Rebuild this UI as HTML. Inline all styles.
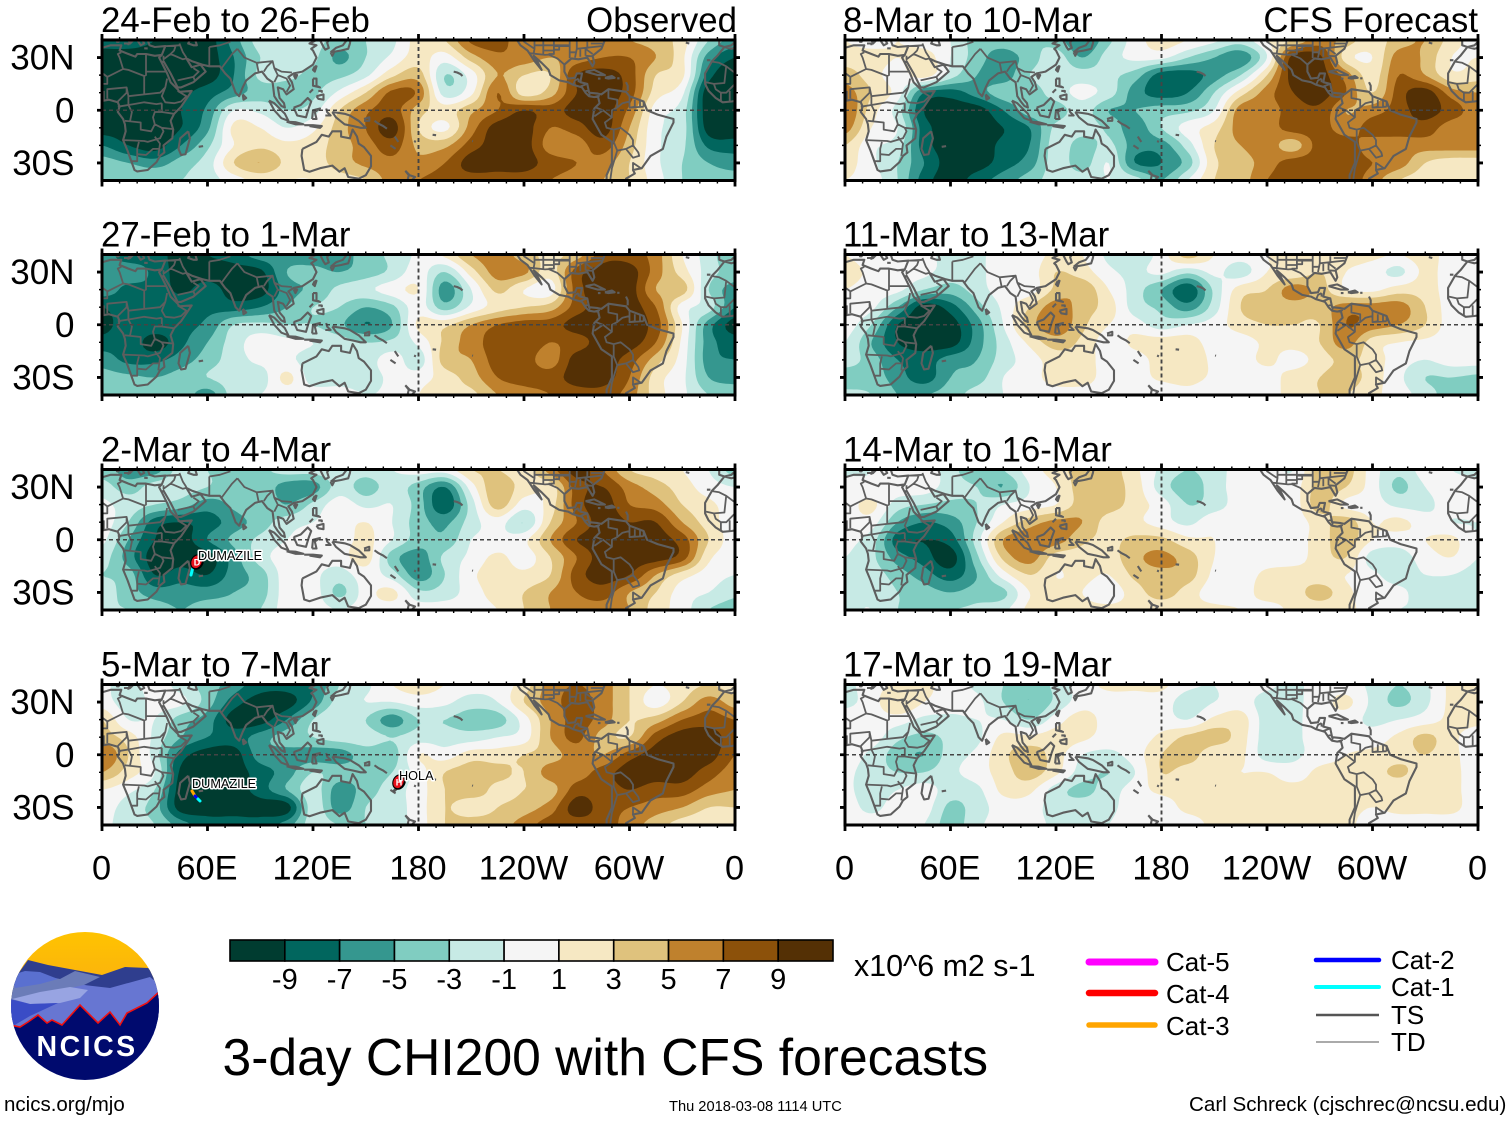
<!DOCTYPE html>
<html lang="en">
<head>
<meta charset="utf-8">
<title>3-day CHI200 with CFS forecasts</title>
<style>
html,body{margin:0;padding:0;background:#fff}
svg{display:block}
text{font-family:"Liberation Sans",sans-serif;fill:#000}
</style>
</head>
<body>
<svg id="chart" xmlns="http://www.w3.org/2000/svg" width="1510" height="1121" viewBox="0 0 1510 1121">
  <defs>
    <clipPath id="logo-clip"><circle cx="85" cy="1006" r="74"/></clipPath>
    <linearGradient id="sun" x1="0" y1="0" x2="0" y2="1"><stop offset="0" stop-color="#ffc400"/><stop offset="0.6" stop-color="#fbb40c"/><stop offset="1" stop-color="#d98f2a"/></linearGradient>
  </defs>
  <g id="panels"></g>
  <g id="colorbar"></g>
  <text x="854" y="976" font-size="30.4">x10^6 m2 s-1</text>
  <text x="222.5" y="1075" font-size="51.6">3-day CHI200 with CFS forecasts</text>
  <g clip-path="url(#logo-clip)">
    <rect x="10" y="930" width="150" height="80" fill="url(#sun)"/>
    <polygon points="10,985 28,960 48,965 75,970 102,975 125,967 148,968 165,980 165,1020 10,1020" fill="#2f3e8e"/>
    <polygon points="10,985 24,973 45,976 60,979 75,971 100,977 84,985 110,990 165,977 165,1030 10,1030" fill="#6b7cb8"/>
    <polygon points="12,975 25,971 40,972 58,979 40,984 15,988" fill="#5a70d0"/>
    <polygon points="84,985 110,988 150,977 165,990 165,1035 10,1035 10,1003 40,996 70,988" fill="#6776d2"/>
    <polygon points="12,999 40,992 70,987 88,990 80,998 60,1003 30,1004" fill="#98a4e2"/>
    <polygon points="10,999 30,1004 58,1003 30,1016 13,1026 10,1026" fill="#3a4cc6"/>
    <polygon points="10,1025 20,1027 28,1022 38,1015 47,1023 52,1020 62,1025 80,1005 98,1023 110,1012 120,1025 127,1013 147,1003 160,991 165,1085 5,1085" fill="#000a6e"/>
    <polyline points="10,1025 20,1027 28,1022 38,1015 47,1023 52,1020 62,1025 80,1005 98,1023 110,1012 120,1025 127,1013 147,1003 160,991" fill="none" stroke="#f01010" stroke-width="1.6"/>
    <text x="36.5" y="1056" font-size="28.5" font-weight="bold" letter-spacing="2.5" style="fill:#fff">NCICS</text>
  </g>
  <text x="4" y="1111" font-size="20.5">ncics.org/mjo</text>
  <text x="669" y="1111" font-size="14.65">Thu 2018-03-08 1114 UTC</text>
  <text x="1189" y="1111" font-size="20.6">Carl Schreck (cjschrec@ncsu.edu)</text>
  <g>
    <line x1="1089" y1="962" x2="1155" y2="962" stroke="#ff00ff" stroke-width="7" stroke-linecap="round"/>
    <line x1="1089" y1="993" x2="1155" y2="993" stroke="#ff0000" stroke-width="6.5" stroke-linecap="round"/>
    <line x1="1089" y1="1025" x2="1155" y2="1025" stroke="#ffa500" stroke-width="5.5" stroke-linecap="round"/>
    <line x1="1316" y1="960" x2="1379" y2="960" stroke="#0000ff" stroke-width="4.5" stroke-linecap="round"/>
    <line x1="1316" y1="987" x2="1379" y2="987" stroke="#00ffff" stroke-width="4" stroke-linecap="round"/>
    <line x1="1316" y1="1015" x2="1379" y2="1015" stroke="#555" stroke-width="2.5"/>
    <line x1="1316" y1="1042" x2="1379" y2="1042" stroke="#aaa" stroke-width="2"/>
    <text x="1166" y="971" font-size="26">Cat-5</text>
    <text x="1166" y="1003" font-size="26">Cat-4</text>
    <text x="1166" y="1035" font-size="26">Cat-3</text>
    <text x="1391" y="969" font-size="26">Cat-2</text>
    <text x="1391" y="996" font-size="26">Cat-1</text>
    <text x="1391" y="1024" font-size="26">TS</text>
    <text x="1391" y="1051" font-size="26">TD</text>
  </g>
</svg>
<script>
// Gridded anomaly fields: rows 40N..40S every 10 deg, columns 0..360E every 15 deg
const feb24 = [
[-8,-8,-9,-10,-10,-6,-2,-2,-2,-4,-3,-1.5,2,3,7.5,8,5.5,6,6,6,5,4,2,-3,-6],
[-10,-10,-10,-10,-10,-7,-3,-2,-2.5,-5.5,-3,-.5,2,0,4,6.5,6,5,6,7,7,5,1.5,-6,-9],
[-10,-10,-10,-10,-10,-7,-2.5,-2.5,-3.5,-3.5,-1.5,2.5,4,-3,0,5,3,3,9,10,8,3,1.5,-8,-11],
[-10,-10,-10,-9.5,-8,-6,-4,-4,-3.5,-.5,3,7.5,6.5,-2,.5,7,2,4,9,10,8,2,-.5,-10.5,-11],
[-10,-10,-10,-9,-6.5,-1,-1.5,-3,-2,3,6.5,8,4,2,4.5,7,9,8,10,10,6.5,0,-2,-10.5,-11],
[-10,-10,-10,-9,-5.5,1.5,1,-1,.5,4,7,10,3,.5,6,10,10,7,8,10,5,-.5,-2,-10,-10.5],
[-7,-9,-10,-7,-3.5,1,2.5,1.5,2,4,6,8,4.5,4.5,8,10,10,6,6,8,4,-.5,-2.5,-7.5,-8],
[-4,-5,-6,-4,-2,3,5,2.5,2,4,5.5,6.5,5.5,7,10,10,10,8,7,6,3,-.5,-3,-5,-6],
[-3,-3,-3,-3,-2,0,1.5,1,1,2,3,6,7,8,8,8,8,7,6,5,3,0,-3,-4,-4]];
const feb27 = [
[-6,-8,-8,-10,-9,-8,-6,-6,-6,-6,-4,-2.5,-.5,1.5,5,6,4,2.5,4,8,8,6,1,-2,-5],
[-7,-6,-7.5,-10,-10,-10,-9.5,-5,-4.5,-5,-4,-2.5,0,-3,2,6,5.5,2,8,10,10,6,2,-2,-4],
[-6,-7.5,-7.5,-9.5,-8,-10,-10,-6,-4.5,-2.5,-1.5,0,1,-6,-1,3.5,1,0,8,10,10,5,4,-3,-6],
[-9,-7.5,-7.5,-7.5,-7.5,-8,-7,-5,-3,-3,-5,-3.5,0,-4,-.5,2,3,4,8,10,10,7,0,-2,-7],
[-10,-7.5,-7.5,-7.5,-6.5,-3,-2.5,-3,-3,-4.5,-7,-5,1.5,2.5,5,7,8,8,10,10,10,8,1,-6,-10],
[-8,-7.5,-10,-7.5,-5,-2,0,-.5,-1,-2,-3,-2.5,-.5,3.5,6,8,8.5,7,8,10,10,7,.5,-6,-8],
[-6,-7.5,-7.5,-6,-4,-2,-.5,-.5,-2,-2,-2,0,-2,4,5,8,8,6,10,10,8,4,0,-6,-7],
[-4,-4.5,-5,-4,-3,-2,-2,1.5,-2,-2,-2,-.5,0,2,4,7,8,8,10,10,7,2,-.5,-5,-6],
[-3,-3,-3,-3.5,-6,-2,-1,0,0,0,-1,-.5,1,3,2.5,5,6,7,8,8,6,2,-.5,-3,-3.5]];
const mar2 = [
[-4,-6,-6,-2,-3,-4,-3.5,-2,-2,-1.5,-2,-1,0,0,3,3,2,6,10,7,3,2,1,-1,-4],
[-2,-4,-2,-2,-3,-4,-3.5,-6,-6,-2,-4,-2,-4,-7,0,4.5,2,2,8,9,6,4,2,0,-1],
[-.5,-2,-3,-4,-6,-4.5,-3,-5,-2.5,0,-1.5,-1,-4,-8.5,-2,4,0,2,8,10,7,6,3,1.5,0],
[0,-3,-8,-9,-8,-6,-4,-2,-1,0,1,-1,-4,-5.5,-2,0,-3,3,7,10,9,9,5,2,0],
[-.5,-5,-9,-10,-7,-4.5,-2.5,-1,0,0,1.5,-1,-4,-4.5,-1,-.5,.5,5,9,10,10,10,8,3,0],
[-2,-6,-10,-10,-10,-6,-2,0,0,0,2,-4,-6,-2.5,-.5,1.5,0,3,7,10,10,10,8,1.5,0],
[-3,-4,-9,-8,-9,-6,-4,0,-.5,-2,0,-2,-6,-3,.5,2,1.5,3,8,10,9,5,2,0,-1],
[-2,-4,-6,-6,-6,-5,-4,0,0,-3.5,0,1.5,-2.5,-2,0,2,3,5,7,8,5,3,0,-1,-2.5],
[-3,-3,-4,-5,-4,-4,-3,0,0,-1,0,0,0,0,0,1,3,5,6,6,5,2,0,-3,-4]];
const mar5 = [
[-.5,-2,0,-2,-4,-6,-8,-8,-7,-3,-1.5,1,2,1,0,0,2,6,7,6,3,1,2,3,2],
[0,-2,-.5,-.5,-4,-8,-10,-10,-6.5,-2,-1,-1,0,-.5,-2,-1,3,6,7.8,6,3,0,3,6,4],
[3,-1,-1,-4,-6,-10,-10,-7,-3,-1,-3,-6,-3,-3,-4,-4,0,5,7.8,6,3,4,7,8,7],
[4,2,-1.5,-5,-7,-8,-6,-4,-3,-2,-2,-3,-2,-2,-2,-1,0,5,7.5,4,3,8,10,10,8],
[7,3,-2,-8,-10,-10,-6,-6,-6,-6,-4,-4,1,0,2,2,3,4,6,5,8,10,10,10,7],
[5,2,-1,-9.5,-10,-10,-8,-6,-3,-4,-4,-3,0,3,4,3.5,3,6,6,8,10,10,10,8,6],
[1,-.5,-3,-10,-10,-10,-8,-5,-2,-6,-4,-2,0,3,4,2.5,3,4,8,8,9,8,8,6,5],
[0,-2,-4,-10,-10,-10,-10,-10,-2,-6,-3,-2,0,3,2,3,4,6,10,8,7,6,5,3,3],
[-.5,-2,-3,-6,-8,-8,-8,-6,-2,-3,-3,-2,0,3,4,4,6,8,8,8,6,4,2,1.5,2]];
const mar8 = [
[1,0,1,0,-1,-4,-4,-3,-4,-7,-3.5,0,2,1,-.5,-2,1,3,6,4,2,4,5,2,0],
[2,2,1,2,-1,-4,-6,-4,-2,-5,-2,-.5,-.5,-3,-5,-6.5,-1,10,9.5,2,1,6,4.5,1,1],
[4,2,0,2,-2,-5,-6,-3,-2,-2,-2.5,-4,-8,-8,-6,-3,3,10,10,6,2,7,5,1.5,2],
[6,3,0,-7,-8,-6,-4,-4,-2,-.5,-2,-6,-8,-7,-3,2,6,9,10,7,3,8,10,6,5],
[7,2,-2,-9,-10,-10,-7,-4,-4,-2,-5,-5,-4,-3.5,-1,6,6,8,8.5,5,6,8,10,8,6],
[6,1,-1,-8,-10,-10,-9,-7,-2.5,-2,-3.5,-6,-3,0,2,6,6,8,8,6,8,8,8,6,6],
[3,-.5,-2,-8,-10,-10,-8.5,-7,-2,-4,-2.5,-6,-6,-2,3,5,6,4,8,8,6,6,6,6,6],
[2,-.5,-3,-7,-10,-10,-8,-6,-2,-4,-1,-7,-7,-4,2.5,4,6,8,8,8,7,6,3,2,2],
[1,0,-3,-8,-10,-8,-6,-4,-2,-2,-1,-2,-5,-1,3,4,7,8,7,8,6,3,2,2,2]];
const mar11 = [
[1,0,1,0,-2,-1.5,0,0,1.5,1,-1.5,-2.5,0,4,1,0,1,2,2,2,1.5,1,2,0,0],
[2,.5,-.5,-.5,-2,-1.5,0,0,3,2,-.5,-1.5,-.5,-2.5,-.5,-2,1,1.5,3,1,0,-1.5,1.5,0,0],
[1,0,-.5,-3,-4,-2,0,0,3.5,4.5,1,-2,-5,-8.5,-2.5,2,3,6,4,1,.5,2,2,0,0],
[0,-.5,-5,-10,-8,-4,-.5,3,6,4,2,-2,-3.5,-6,-2,3,4,4,4,6,6,6,3,0,0],
[0,-3,-9,-10,-10,-6,-1,4,6.5,3.5,1,0,-2,-1,0,2,3,3,3,7,6,5,3,0,0],
[-1,-5,-9,-10,-10,-6,-2,1.5,4,2.5,0,1.5,2,2,0,0,1.5,2,3,6,2,1,.5,0,0],
[-2,-4,-7,-8,-6,-5,-2,0,2,2,0,0,2,2.5,.5,0,1.5,0,2,3.5,2,0,-1,0,0],
[-4,-4,-6,-8,-5,-4,-1,0,2,2,0,0,1.5,2,.5,0,0,2,3,4,2,-.5,-3,-3,-3.5],
[-2.5,-3,-5,-5,-4,-2,-1,0,0,0,0,0,-1,0,-1,0,0,2,3,3,1.5,0,-2,-4,-4]];
const mar14 = [
[-1.5,-1,0,0,-2,-5,-3,0,2,4,4,1.5,-1.5,-3,-2,0,0,-1,4,4,0,-2.5,0,-1,-2],
[0,-.5,0,0,-2,-3,-5,-1,1,4,4,2,-2,-4,-2,0,0,0,4,3,0,-3.5,-1,0,0],
[0,1.5,-2,-3,-3.5,-3,-1,0,1,4,4,2,0,-3,-2,0,0,0,4,.5,0,-1.5,-1.5,0,0],
[0,0,-5,-7,-6,-3,1,4,5.5,5,2,1.5,0,-1.5,.5,0,0,0,2,4,1,1.5,0,-1,-1],
[-.5,-2,-8,-9,-8,-2,5,6.5,6,3.5,2.5,3.5,3.5,1.5,1,0,0,0,2,4,1,0,1,1.5,-1],
[-1,-2.5,-6,-8,-10,-3.5,3.5,6,2,2,2,4.5,5.5,4,1,0,0,0,2,3,-2,-2,0,1,-1],
[-2,-2,-4,-6,-8,-5,0,3,1,1.5,1,3.5,4.5,4,.5,0,1.5,2,1.5,1,-.5,-2,-1,-1,-2],
[-1.5,-1.5,-3,-4,-5,-4,-3.5,1,1.5,1,0,2,4,2,0,0,2,2,4,1.5,0,-.5,-2,-2,-2.5],
[-1.5,-1,-3,-3,-3,-2.5,-1.5,1.5,1.5,1.5,1.5,1.5,1.5,1.5,1.5,1,0,1.5,1.5,1.5,0,-1,-1,-1,-1.5]];
const mar17 = [
[-1.5,0,1.5,1.5,0,-1.5,-3,-4,-2.5,0,1.5,1.5,1.5,-.5,-1,0,-.5,-1.5,0,0,-1.5,-3,-1.5,1.5,1.5],
[-1.5,0,3,1,0,-.5,-3,-5,-2.5,0,0,0,0,-2,-1,0,-2,-1.5,0,1.5,-1.5,-3.5,-1.5,1.5,1.5],
[0,0,0,-1.5,-1.5,-1,-1,-3,0,2,0,0,0,-1,1.5,2,-2,-1.5,0,0,-1.5,-1,0,1.5,1.5],
[0,0,-2.5,-3.5,-2.5,-1.5,1.5,1.5,2,1.5,0,0,1.5,3.5,4,2,-2,-1.5,0,0,0,1.5,3.5,1.5,0],
[0,-1.5,-4,-5,-2,-.5,2.5,4,2,-1,-1.5,0,3,4,1.5,1.5,-2,-1.5,0,1,1.5,2,3,1.5,0],
[-.5,-2,-3,-3,-1.5,0,2,4,1.5,-2,-3,-1,3,2,1.5,1,1,0,1.5,1.5,2,3.5,1.5,1.5,0],
[-.5,-2,-1,0,-2,-1.5,1.5,1.5,-2,-3.5,-2,0,1.5,1.5,1.5,1.5,1.5,1.5,1.5,1.5,1.5,1.2,1.5,1.5,0],
[0,-1.5,0,0,-3.5,-2,0,0,-2,-2,-1.5,0,0,1.5,1.5,1.5,1.5,1,1.5,1.5,1,1.5,1.5,1.5,0],
[0,0,0,-1,-4,-1.5,0,0,-1.5,-1.5,-1,0,0,0,1.5,1.5,1.5,1.5,1.5,1.5,0,0,0,0,0]];

const panelFields = [feb24, feb27, mar2, mar5, mar8, mar11, mar14, mar17];
const panelTitles = ["24-Feb to 26-Feb","27-Feb to 1-Mar","2-Mar to 4-Mar","5-Mar to 7-Mar","8-Mar to 10-Mar","11-Mar to 13-Mar","14-Mar to 16-Mar","17-Mar to 19-Mar"];
const panelKeys = ["feb24","feb27","mar2","mar5","mar8","mar11","mar14","mar17"];
const contourLevels = [-9,-7,-5,-3,-1,1,3,5,7,9];
const contourColors = ["#003c30","#01665e","#35978f","#80cdc1","#c7eae5","#f5f5f5","#f6e8c3","#dfc27d","#bf812d","#8c510a","#543005"];
const lonTickValues = [0,60,120,180,240,300,360];
const lonTickLabels = ["0","60E","120E","180","120W","60W","0"];
const latTickValues = [30,0,-30];
const latTickLabels = ["30N","0","30S"];

// Coastlines and borders as [lon, lat] vertices (degrees)
const coastlines = [
[[-6,36],[-10,31],[-13,28],[-17,21],[-17,15],[-15,11],[-11,7],[-7,4.5],[-2,5],[4,6],[9,4.5],[10,2],[9,-1],[12,-5],[13,-8],[13.5,-12],[12,-17],[14.5,-23],[17,-30],[18.5,-34],[20,-34.8],[26,-34],[31,-29.5],[33,-26],[35.5,-24],[35,-20],[40,-16],[40.5,-11],[39,-6],[41,-2],[45,2],[51,11],[44,10.5],[43,12],[39,16],[37,21],[34,27],[32.5,30],[34,31.5],[30,31],[25,32],[20,32],[19,30.5],[15,32],[10,34],[11,37],[5,37],[-2,35],[-6,36]],
[[34,27],[35,28],[39,21],[43,13],[45,13],[52,16],[59,22],[56,26],[51,24.5],[48,29.5],[51,28],[57,26],[61,25],[67,25],[70,21],[73,18],[76,10],[78,8],[80,13],[82,17],[87,21],[91,22],[94,18],[97,16],[98,8],[100,5],[102,2.5],[104,1.5],[103.5,4],[101,7],[100,13],[103,12],[105,9],[109,12],[108,16],[106,19],[109,21],[114,22],[120,26],[122,30],[120,34],[119,35],[122,37],[118,38],[122,40]],
[[124,40],[126,36],[127,34.5],[129,35.5],[128,38.5],[130,41]],
[[130,33],[136,34],[140,35],[141,38],[141.5,41]],[[140,41],[137,37],[133,35.5],[130,33]],[[130,33],[131,31],[132,33]],
[[49,-12],[50,-16],[47.5,-25],[45,-25.5],[43.5,-22],[44.5,-16],[49,-12]],
[[80,9],[82,7],[80.5,6],[80,9]],
[[95,5.5],[98,4],[104,-2],[106,-6],[102,-4.5],[98,0],[95,5.5]],
[[105,-6.5],[110,-6.8],[114.5,-8],[110,-8],[105,-6.5]],
[[115,-8.5],[120,-8.5],[125,-9],[124,-10],[118,-9]],
[[109,1.5],[113,3],[117,7],[119,5],[117.5,1],[116,-4],[111,-3],[109,1.5]],
[[119.5,-5],[120,0],[124,1],[121,-1],[122,-5],[119.5,-5]],
[[120,18],[122,18],[122,14],[124,13],[120,14],[120,18]],[[122,8],[126,9],[126,6],[123,6.5],[122,8]],[[118,10],[120,12]],[[123,11],[125,11],[125,10]],
[[121,25],[122,25],[121,22],[120,23],[121,25]],[[109,20],[111,20],[110,18],[109,20]],
[[127.5,1],[128,-1],[130,-3],[127,-3]],
[[131,-1],[138,-2],[141,-3],[146,-6],[150,-10],[147,-10],[143,-9],[138,-8],[133,-4],[131,-1]],
[[149,-5],[152,-4],[152,-6],[149,-6]],[[155,-6],[157,-7.5],[160,-9],[162,-10.5]],
[[166.5,-15],[167.5,-16.5],[168.5,-18]],[[164,-20],[167,-22]],[[177.5,-17.5],[178.5,-18]],[[171.5,-41],[172.5,-40.5]],
[[114,-22],[113.5,-26],[115,-34],[118,-35],[124,-33],[131,-31.5],[135,-35],[138,-33],[140,-38],[146,-39],[150,-37],[153,-32],[153,-26],[149,-21],[146,-19],[145,-15],[142.5,-11],[141,-16],[136,-15],[136,-12],[131,-12],[129,-15],[125,-14],[122,-18],[114,-22]],
[[172.5,-34.5],[175,-37],[178,-38],[175,-41],[174,-39],[174.5,-37],[172.5,-34.5]],
[[-160,22],[-158,21.5],[-156,20.5],[-155,19.5]],[[-172,-14],[-170,-14.2]],[[-149.5,-17.5],[-149,-17.7]],[[55,-20.8],[57.5,-20.4]],[[-28,38.5],[-26,38]],[[-16,28.5],[-14,28.5]],
[[-124,40],[-122,37],[-118,34],[-117,32.5],[-114,28],[-110,23],[-112,27],[-114.5,31],[-110,27],[-106,23],[-105,20],[-100,17],[-95,16],[-92,14.5],[-87,13],[-85,10],[-83,8],[-80,7.5],[-78,8],[-77,4],[-80,1],[-81,-5],[-76,-14],[-70,-18],[-70,-30],[-73,-37],[-73,-41]],
[[-62,-41],[-62,-39],[-57,-36],[-58,-34],[-53,-33],[-48,-26],[-41,-22],[-39,-15],[-35,-7],[-35,-5],[-44,-2.5],[-50,0],[-52,5],[-60,8],[-62,10.5],[-72,12],[-76,9],[-78,9.5],[-83,10],[-84,15],[-88,16],[-87,21],[-90,21],[-91,18.5],[-95,18],[-97,22],[-97,26],[-93,29.5],[-89,29],[-84,30],[-81,25],[-80,27],[-81,31],[-76,35],[-74,40]],
[[-85,22],[-80,23],[-74,20],[-78,20],[-85,22]],[[-74,18.5],[-70,19.5],[-68.5,18.5],[-72,18],[-74,18.5]],[[-67,18.2],[-65.7,18.2]],[[-78,18],[-76.5,18]],[[-62,16],[-61,14],[-61,11]],
[[-9,40],[-9,37],[-6,36],[-2,37],[0,39],[0,40]],[[15,40],[16,38],[18,40],[16,40.5]],[[12.5,38],[15,38],[15,37]],[[8.5,41],[8.5,39],[9.5,39],[9.5,41]],[[20,40],[22,37],[24,38],[23,40],[26,40]],[[24,35.3],[26,35.2]],[[26,40],[27,37],[30,36],[36,36.5],[34,31.5]],[[50,40],[49,38],[52,37],[54,37],[53,40]]
];
const borderLines = [
[[25,22],[37,22]],[[25,31.5],[25,20],[24,19.5],[24,15.5]],[[24,19.5],[15,23],[12,23.5],[10,30],[9,32],[11,33]],[[12,23.5],[3,19],[-5,25],[-9,27],[-13,27.7]],[[-5,25],[-6,15.5],[-12,15],[-16.5,16]],[[3,19],[3,15],[0,15],[-5,10],[-8,10],[-11,12],[-12,15]],[[3,6.5],[3,12],[14,13],[14,10],[9,5]],[[14,13],[15,8],[24,9],[24,15.5]],[[24,9],[33,10],[36,13],[37,18]],[[36,13],[34,8],[36,4.5],[41,4],[45,5],[48,8],[43,11]],[[15,8],[15,3],[18,3.5],[24,4.5],[31,3.5],[34,4]],[[34,4],[34,-1],[41,-2]],[[34,-1],[30,-1],[29,-4],[30,-8],[34,-10],[40,-10.7]],[[13,-6],[22,-7],[22,-11],[28,-12],[30,-8]],[[9,2],[15,3]],[[15,3],[17,-1],[16,-6]],[[12,-17],[24,-17.5],[26,-18],[33,-16],[35,-12],[34,-10]],[[17,-29],[20,-29],[20,-22],[21,-18]],[[20,-25],[25,-25.5],[29,-22],[33,-22]],[[30,-15],[33,-19],[32,-26]],[[-8,10],[-8,5]],[[-3,5],[-3,11]],[[1,6],[1,11]],
[[35,31],[35,29],[39,32],[46,29],[48,29.5]],[[43,17],[52,19],[55,22],[52,24]],[[52,19],[53,16.5]],[[44,38],[46,33],[48,30]],[[61,25],[61,36]],[[68,24],[71,28],[74,32],[77,35]],[[77,35],[81,30],[88,27],[97,28]],[[92,22],[94,25],[97,28],[98,24],[100,20],[98,16]],[[100,20],[105,18],[107,14],[105,10.5]],[[98,24],[102,22],[108,21.5]],[[36,36.5],[44,37]],[[42,37],[41,34],[39,32]],[[61,36],[67,37],[73,39]],[[88,27],[89,22]],
[[-117,32.5],[-108,31.5],[-106,31.7],[-101,29.5],[-97,26]],[[-120,40],[-120,39],[-114,35]],[[-114,40],[-114,35],[-114.5,32.5]],[[-109,40],[-109,31.5]],[[-103,40],[-103,32],[-106,32]],[[-114,37],[-94,37]],[[-103,36.5],[-94,36.5]],[[-94,40],[-94,29.7]],[[-90,40],[-90,35],[-91,30]],[[-85,35],[-85,31]],[[-90,35],[-76,36.5]],[[-88,35],[-88,30.5]],[[-85,31],[-81,30.7]],[[-85,35],[-81,32]],[[-82,38],[-75,38]],[[-84,39],[-84,35]],[[-109,34],[-103,34]],[[-103,34.5],[-100,34.5],[-100,37]],[[-94,33],[-90,33]],
[[-92,14.5],[-91,17],[-89,18]],[[-89,18],[-89,16]],[[-88,13.5],[-84,15]],[[-85,11],[-83.5,11]],[[-83,8.5],[-82.5,9.5]],[[-77.5,8],[-77,8.5]],
[[-72,12],[-72,7],[-67,6],[-67,1.5],[-70,0],[-70,-4],[-75,0],[-79,1.5]],[[-67,1.5],[-64,4],[-60,5]],[[-60,8],[-60,1.5],[-57,2],[-57,6]],[[-54,6],[-54,2]],[[-52,5],[-52,2]],[[-60,1.5],[-52,2]],[[-70,-4],[-74,-7],[-73,-10],[-69,-11]],[[-69,-11],[-65,-10],[-60,-14],[-58,-17],[-58,-20],[-62,-22],[-67,-23],[-69,-18],[-69,-11]],[[-80,-3.5],[-75,0]],[[-67,-23],[-70,-33],[-71,-40]],[[-58,-20],[-55,-24],[-54.5,-26],[-58,-27],[-62,-22]],[[-58,-34],[-58,-30],[-53.5,-33]]
];
const panelOrigins = [[102,40],[102,254.5],[102,469.5],[102,684.5],[845,40],[845,254.5],[845,469.5],[845,684.5]];

const NS = "http://www.w3.org/2000/svg";
const PW = 633, PH = 140.5;
function mk(tag, attrs, parent, txt){
  const e = document.createElementNS(NS, tag);
  for (const k in attrs) e.setAttribute(k, attrs[k]);
  if (txt !== undefined) e.textContent = txt;
  if (parent) parent.appendChild(e);
  return e;
}
function xScale(ox, lon){ return ox + lon / 360 * PW; }
function yScale(oy, lat){ return oy + (40 - lat) / 80 * PH; }
function cr(a,b,c,d,t){
  return b + .5*t*(c-a + t*(2*a-5*b+4*c-d + t*(3*(b-c)+d-a)));
}
function sampleField(f, lon, lat){
  const u = lon/15, v = (40-lat)/10;
  const i = Math.min(23, Math.floor(u)), j = Math.min(7, Math.floor(v));
  const tu = u-i, tv = v-j;
  const col = q => Math.max(0, Math.min(24, q));
  const row = q => Math.max(0, Math.min(8, q));
  const r = [];
  for (let m=-1;m<=2;m++){
    const R = f[row(j+m)];
    r.push(cr(R[col(i-1)],R[col(i)],R[col(i+1)],R[col(i+2)],tu));
  }
  return cr(r[0],r[1],r[2],r[3],tv);
}
function bandPath(f, level, ox, oy, grid, NX, NY){
  let d = "";
  const dLon = 360/NX, dLat = 80/NY;
  const px = i => xScale(ox, i*dLon).toFixed(1);
  const py = j => yScale(oy, 40-j*dLat).toFixed(1);
  for (let j=0;j<NY;j++){
    let runStart = -1;
    for (let i=0;i<=NX;i++){
      const full = i<NX && grid[j][i]>=level && grid[j][i+1]>=level && grid[j+1][i]>=level && grid[j+1][i+1]>=level;
      if (full){ if (runStart<0) runStart=i; continue; }
      if (runStart>=0){
        d += "M"+px(runStart)+" "+py(j)+"L"+px(i)+" "+py(j)+"L"+px(i)+" "+py(j+1)+"L"+px(runStart)+" "+py(j+1)+"Z";
        runStart=-1;
      }
      if (i===NX) break;
      const c = [[i,j],[i+1,j],[i+1,j+1],[i,j+1]];
      const vals = c.map(p=>grid[p[1]][p[0]]);
      if (vals.every(v=>v<level)) continue;
      const pts = [];
      for (let k=0;k<4;k++){
        const n=(k+1)%4, a=vals[k], b=vals[n];
        if (a>=level) pts.push(c[k]);
        if ((a>=level)!==(b>=level)){
          const t=(level-a)/(b-a);
          pts.push([c[k][0]+t*(c[n][0]-c[k][0]), c[k][1]+t*(c[n][1]-c[k][1])]);
        }
      }
      pts.forEach((p,q)=>{ d += (q?"L":"M")+px(p[0])+" "+py(p[1]); });
      d += "Z";
    }
  }
  return d;
}
function linePath(lines, ox, oy){
  let d="";
  [0,360].forEach(off=>{
    lines.forEach(l=>{
      l.forEach((p,q)=>{
        d += (q?"L":"M")+xScale(ox,p[0]+off).toFixed(1)+" "+yScale(oy,p[1]).toFixed(1);
      });
    });
  });
  return d;
}
const root = document.getElementById("panels");
const defs = document.querySelector("defs");
panelFields.forEach((field, idx)=>{
  const ox = panelOrigins[idx][0], oy = panelOrigins[idx][1], key = panelKeys[idx];
  const g = mk("g",{},root);
  
  
  const cp = mk("clipPath",{id:"clip-"+idx},defs);
  mk("rect",{x:ox,y:oy,width:PW,height:PH},cp);
  const bands = mk("g",{"clip-path":"url(#clip-"+idx+")"},g);
  
  
  const base = mk("rect",{x:ox,y:oy,width:PW,height:PH,fill:contourColors[0]},bands);
  
  
  const NX=211, NY=47, grid=[];
  for (let j=0;j<=NY;j++){
    const row=[];
    for (let i=0;i<=NX;i++) row.push(sampleField(field,i*360/NX,40-j*80/NY));
    grid.push(row);
  }
  contourLevels.forEach((lv,k)=>{
    const p = mk("path",{d:bandPath(field,lv,ox,oy,grid,NX,NY),fill:contourColors[k+1]},bands);
    
    
  });
  const coast = mk("path",{d:linePath(coastlines,ox,oy),fill:"none",stroke:"#5e5e5e","stroke-width":2.1,"stroke-linejoin":"round"},bands);
  
  
  const bord = mk("path",{d:linePath(borderLines,ox,oy),fill:"none",stroke:"#5e5e5e","stroke-width":1.8,"stroke-linejoin":"round"},bands);
  
  
  const eq = mk("line",{x1:ox,x2:ox+PW,y1:yScale(oy,0),y2:yScale(oy,0),stroke:"#444","stroke-width":1.6,"stroke-dasharray":"4 3"},g);
  
  
  const dl = mk("line",{x1:xScale(ox,180),x2:xScale(ox,180),y1:oy,y2:oy+PH,stroke:"#444","stroke-width":1.9,"stroke-dasharray":"4 3"},g);
  
  
  // minor and major ticks
  let minor="", major="";
  for (let lon=0;lon<=360;lon+=10){
    const x=xScale(ox,lon);
    if (lon%60===0) major+="M"+x+" "+(oy-6)+"V"+oy+"M"+x+" "+(oy+PH)+"V"+(oy+PH+6);
    else minor+="M"+x+" "+(oy-3)+"V"+oy+"M"+x+" "+(oy+PH)+"V"+(oy+PH+3);
  }
  for (let lat=-30;lat<=30;lat+=10){
    const y=yScale(oy,lat);
    if (lat%30===0) major+="M"+(ox-5)+" "+y+"H"+ox+"M"+(ox+PW)+" "+y+"H"+(ox+PW+5);
    else minor+="M"+(ox-3)+" "+y+"H"+ox+"M"+(ox+PW)+" "+y+"H"+(ox+PW+3);
  }
  const t1=mk("path",{d:minor,stroke:"#000","stroke-width":1.4,fill:"none"},g);
  
  
  const t2=mk("path",{d:major,stroke:"#000","stroke-width":2.8,fill:"none"},g);
  
  
  const fr=mk("rect",{x:ox,y:oy,width:PW,height:PH,fill:"none",stroke:"#000","stroke-width":3},g);
  
  
  const ttl=mk("text",{x:idx<4?ox-1:ox-2,y:oy-8,"font-size":34.8},g,panelTitles[idx]);
  
  
  if (idx<4){
    latTickValues.forEach((lat,q)=>{
      const tl=mk("text",{x:ox-27.5,y:yScale(oy,lat)+12,"font-size":35,"text-anchor":"end"},g,latTickLabels[q]);
      
      
    });
  }
  if (idx%4===3){
    lonTickValues.forEach((lon,q)=>{
      const tl=mk("text",{x:xScale(ox,lon)-.5,y:879.5,"font-size":34.3,"text-anchor":"middle"},g,lonTickLabels[q]);
      
      
    });
  }
  if (idx===0){
    const o=mk("text",{x:ox+635,y:oy-8,"font-size":34.8,"text-anchor":"end"},g,"Observed");
    
    
  }
  if (idx===4){
    const o=mk("text",{x:ox+633,y:oy-8,"font-size":34.8,"text-anchor":"end"},g,"CFS Forecast");
    
    
  }
});
// Tropical cyclone markers
function storm(parent, name, cx, cy, letter, lx, ly, track){
  const g = mk("g",{},parent);
  
  
  track.forEach(s=>{
    mk("line",{x1:s[0],y1:s[1],x2:s[2],y2:s[3],stroke:s[4],"stroke-width":3,"stroke-linecap":"round"},g);
  });
  if (letter){
    mk("ellipse",{cx:cx,cy:cy,rx:6.5,ry:8,fill:"#000",transform:"rotate(25 "+cx+" "+cy+")"},g);
    mk("ellipse",{cx:cx-.5,cy:cy,rx:5,ry:6.5,fill:"#e8101a",transform:"rotate(25 "+cx+" "+cy+")"},g);
    mk("text",{x:cx,y:cy+3.5,"font-size":9,"text-anchor":"middle",style:"fill:#fff;font-weight:bold"},g,letter);
  }
  mk("text",{x:lx,y:ly,"font-size":12.7,stroke:"#fff","stroke-width":3,"paint-order":"stroke","stroke-linejoin":"round"},g,name);
}
storm(root,"DUMAZILE",197,562,"D",198,560,[[193,567,191,575,"#00ffff"]]);
storm(root,"DUMAZILE",193,790,"",192,788,[[192,791,195,796,"#ffa500"],[195,796,198,799,"#0000ff"],[198,799,200,801,"#00ffff"]]);
storm(root,"HOLA",399,782,"H",399,780,[[397,788,394,791,"#555"]]);
// Colorbar
const cb = document.getElementById("colorbar");
const CBX=230, CBW=603, CBY=940, CBH=21;
contourColors.forEach((c,i)=>{
  const w=CBW/contourColors.length;
  const r=mk("rect",{x:CBX+i*w,y:CBY,width:w,height:CBH,fill:c,stroke:"#000","stroke-width":1.6},cb);
  
  
});
contourLevels.forEach((lv,i)=>{
  const w=CBW/contourColors.length;
  const t=mk("text",{x:CBX+(i+1)*w,y:989,"font-size":29,"text-anchor":"middle"},cb,String(lv));
  
  
});
</script>
</body>
</html>
